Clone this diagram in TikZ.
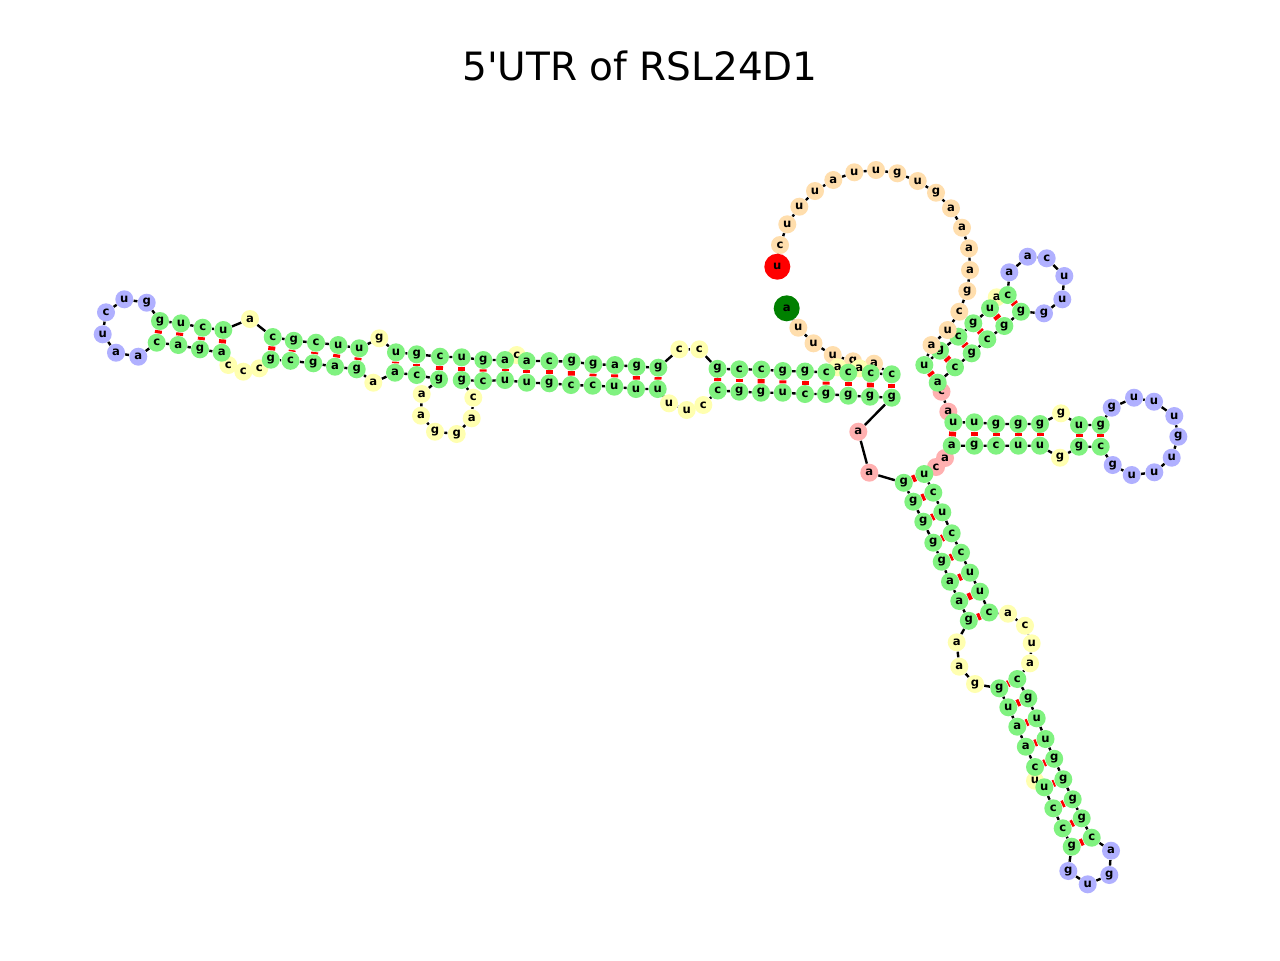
\documentclass[tikz,border=0pt]{standalone}
\usepackage{fontspec}
\setmainfont{DejaVu Sans}
\usetikzlibrary{backgrounds}
\definecolor{stemgreen}{RGB}{128,242,128}
\definecolor{loopyellow}{RGB}{255,255,176}
\definecolor{hairpinblue}{RGB}{176,176,255}
\definecolor{multipink}{RGB}{255,176,176}
\definecolor{tailpeach}{RGB}{255,222,173}
\definecolor{startgreen}{RGB}{0,128,0}
\definecolor{endred}{RGB}{255,0,0}
\tikzset{
  nt/.style={
    circle,
    draw=none,
    inner sep=0pt,
    minimum size=9pt,
    font=\fontsize{5.8}{6}\selectfont\bfseries
  },
  stem/.style={nt, fill=stemgreen},
  iloop/.style={nt, fill=loopyellow},
  hloop/.style={nt, fill=hairpinblue},
  mloop/.style={nt, fill=multipink},
  tail/.style={nt, fill=tailpeach},
  first/.style={nt, minimum size=13pt, fill=startgreen},
  last/.style={nt, minimum size=13pt, fill=endred},
  backbone/.style={draw=black, line width=1.2pt},
  pair/.style={draw=endred, line width=3.5pt}
}
\def\nuc#1{#1}

\begin{document}
\begin{tikzpicture}[x=0.5pt, y=-0.5pt]
    \useasboundingbox (0,0) rectangle (1280,960);
    \node[anchor=base, font=\fontsize{19.5}{22}\selectfont] (title) at (640, 80) {5\textquotesingle UTR of RSL24D1};
    \node[first] (n1) at (786.7, 308.3) {\nuc{a}};
    \node[tail] (n2) at (798.3, 327.7) {\nuc{u}};
    \node[tail] (n3) at (813.5, 343.3) {\nuc{u}};
    \node[tail] (n4) at (832.7, 355) {\nuc{u}};
    \node[tail] (n5) at (853, 361.3) {\nuc{g}};
    \node[tail] (n6) at (874, 363.7) {\nuc{a}};
    \node[iloop] (n9) at (859.3, 368.3) {\nuc{a}};
    \node[iloop] (n11) at (837.7, 367.3) {\nuc{a}};
    \node[stem] (n7) at (891.7, 374.3) {\nuc{c}};
    \node[stem] (n8) at (870.7, 373.3) {\nuc{c}};
    \node[stem] (n10) at (848.3, 372.7) {\nuc{c}};
    \node[stem] (n12) at (826.3, 372.3) {\nuc{c}};
    \node[stem] (n13) at (805, 371.5) {\nuc{g}};
    \node[stem] (n14) at (782.8, 371) {\nuc{g}};
    \node[stem] (n15) at (761.3, 369.6) {\nuc{c}};
    \node[stem] (n16) at (739.3, 369.3) {\nuc{c}};
    \node[stem] (n17) at (717.5, 368.8) {\nuc{g}};
    \node[iloop] (n18) at (699.3, 349.3) {\nuc{c}};
    \node[iloop] (n19) at (679.3, 349.3) {\nuc{c}};
    \node[stem] (n20) at (658.3, 367.7) {\nuc{g}};
    \node[stem] (n21) at (636.7, 366.7) {\nuc{g}};
    \node[stem] (n22) at (615, 365) {\nuc{a}};
    \node[stem] (n23) at (593.3, 364.3) {\nuc{g}};
    \node[stem] (n24) at (571.7, 361.7) {\nuc{g}};
    \node[stem] (n25) at (549.3, 361) {\nuc{c}};
    \node[iloop] (n27) at (516.7, 355) {\nuc{c}};
    \node[stem] (n26) at (526.7, 361) {\nuc{a}};
    \node[stem] (n28) at (505, 360) {\nuc{a}};
    \node[stem] (n29) at (483.3, 360) {\nuc{g}};
    \node[stem] (n30) at (461.7, 357.3) {\nuc{u}};
    \node[stem] (n31) at (440, 356.7) {\nuc{c}};
    \node[stem] (n32) at (416.7, 354.3) {\nuc{g}};
    \node[stem] (n33) at (396, 352.3) {\nuc{u}};
    \node[iloop] (n34) at (379.3, 338.3) {\nuc{g}};
    \node[stem] (n35) at (359.3, 348.3) {\nuc{u}};
    \node[stem] (n36) at (338.3, 345) {\nuc{u}};
    \node[stem] (n37) at (316, 342.7) {\nuc{c}};
    \node[stem] (n38) at (293.8, 340.8) {\nuc{g}};
    \node[stem] (n39) at (272.7, 337) {\nuc{c}};
    \node[iloop] (n40) at (250, 319) {\nuc{a}};
    \node[stem] (n41) at (223.3, 330) {\nuc{u}};
    \node[stem] (n42) at (202.7, 327.7) {\nuc{c}};
    \node[stem] (n43) at (181, 323.3) {\nuc{u}};
    \node[stem] (n44) at (160, 321) {\nuc{g}};
    \node[hloop] (n45) at (146.7, 302.7) {\nuc{g}};
    \node[hloop] (n46) at (124.3, 299.3) {\nuc{u}};
    \node[hloop] (n47) at (106, 312.3) {\nuc{c}};
    \node[hloop] (n48) at (102.7, 334.3) {\nuc{u}};
    \node[hloop] (n49) at (116, 352.7) {\nuc{a}};
    \node[hloop] (n50) at (138.3, 356.7) {\nuc{a}};
    \node[stem] (n51) at (156.7, 342.7) {\nuc{c}};
    \node[stem] (n52) at (178.3, 345) {\nuc{a}};
    \node[stem] (n53) at (200, 349.3) {\nuc{g}};
    \node[iloop] (n55) at (228.3, 365) {\nuc{c}};
    \node[stem] (n54) at (221.7, 352.7) {\nuc{a}};
    \node[iloop] (n56) at (243.3, 371.7) {\nuc{c}};
    \node[iloop] (n57) at (259.3, 368.3) {\nuc{c}};
    \node[stem] (n58) at (270.8, 359.7) {\nuc{g}};
    \node[stem] (n59) at (290.5, 360.8) {\nuc{c}};
    \node[stem] (n60) at (313.3, 363.3) {\nuc{g}};
    \node[stem] (n61) at (335, 366.7) {\nuc{a}};
    \node[stem] (n62) at (356.7, 369.3) {\nuc{g}};
    \node[iloop] (n63) at (373.3, 382.7) {\nuc{a}};
    \node[stem] (n64) at (395, 372.7) {\nuc{a}};
    \node[stem] (n65) at (416.7, 375) {\nuc{c}};
    \node[iloop] (n67) at (421.7, 394) {\nuc{a}};
    \node[stem] (n66) at (439, 379.3) {\nuc{g}};
    \node[iloop] (n68) at (421, 415.7) {\nuc{a}};
    \node[iloop] (n69) at (435, 431.7) {\nuc{g}};
    \node[iloop] (n70) at (456.7, 434) {\nuc{g}};
    \node[iloop] (n71) at (471.7, 418.3) {\nuc{a}};
    \node[iloop] (n72) at (473.3, 397.7) {\nuc{c}};
    \node[stem] (n73) at (461.7, 380) {\nuc{g}};
    \node[stem] (n74) at (483, 381) {\nuc{c}};
    \node[stem] (n75) at (505, 380) {\nuc{u}};
    \node[stem] (n76) at (526.7, 382.7) {\nuc{u}};
    \node[stem] (n77) at (549.3, 383.3) {\nuc{g}};
    \node[stem] (n78) at (571, 385) {\nuc{c}};
    \node[stem] (n79) at (592.7, 385.7) {\nuc{c}};
    \node[stem] (n80) at (614.3, 386.7) {\nuc{u}};
    \node[stem] (n81) at (636, 389) {\nuc{u}};
    \node[stem] (n82) at (657.7, 389) {\nuc{u}};
    \node[iloop] (n83) at (669, 403.3) {\nuc{u}};
    \node[iloop] (n84) at (686.7, 410) {\nuc{u}};
    \node[iloop] (n85) at (703.3, 405) {\nuc{c}};
    \node[stem] (n86) at (717.8, 390.5) {\nuc{c}};
    \node[stem] (n87) at (739.3, 391.7) {\nuc{g}};
    \node[stem] (n88) at (761, 392.7) {\nuc{g}};
    \node[stem] (n89) at (782.7, 392.7) {\nuc{u}};
    \node[stem] (n90) at (805, 394) {\nuc{c}};
    \node[stem] (n91) at (826, 394) {\nuc{g}};
    \node[stem] (n92) at (848.3, 395.7) {\nuc{g}};
    \node[stem] (n93) at (870, 396.7) {\nuc{g}};
    \node[stem] (n94) at (891.7, 397.7) {\nuc{g}};
    \node[mloop] (n95) at (858.3, 431.7) {\nuc{a}};
    \node[mloop] (n96) at (869.3, 472.7) {\nuc{a}};
    \node[stem] (n97) at (903.8, 482.8) {\nuc{g}};
    \node[stem] (n98) at (913.3, 501.7) {\nuc{g}};
    \node[stem] (n99) at (923.3, 521.7) {\nuc{g}};
    \node[stem] (n100) at (933.3, 542.7) {\nuc{g}};
    \node[stem] (n101) at (941.7, 561.7) {\nuc{g}};
    \node[stem] (n102) at (950, 581.7) {\nuc{a}};
    \node[stem] (n103) at (959.3, 601) {\nuc{a}};
    \node[stem] (n104) at (968.8, 620.8) {\nuc{g}};
    \node[iloop] (n105) at (956.7, 642.3) {\nuc{a}};
    \node[iloop] (n106) at (959.3, 666.7) {\nuc{a}};
    \node[iloop] (n107) at (975, 684) {\nuc{g}};
    \node[stem] (n108) at (999.3, 688.3) {\nuc{g}};
    \node[stem] (n109) at (1008.3, 707.3) {\nuc{u}};
    \node[stem] (n110) at (1017.3, 726.7) {\nuc{a}};
    \node[stem] (n111) at (1025.8, 746.7) {\nuc{a}};
    \node[iloop] (n113) at (1035, 780.7) {\nuc{u}};
    \node[stem] (n112) at (1035, 767) {\nuc{c}};
    \node[stem] (n114) at (1044.3, 787.3) {\nuc{u}};
    \node[stem] (n115) at (1053.3, 808.3) {\nuc{c}};
    \node[stem] (n116) at (1062.7, 828.3) {\nuc{c}};
    \node[stem] (n117) at (1071.7, 846.7) {\nuc{g}};
    \node[hloop] (n118) at (1068.3, 871) {\nuc{g}};
    \node[hloop] (n119) at (1087.7, 884.3) {\nuc{u}};
    \node[hloop] (n120) at (1109.3, 875) {\nuc{g}};
    \node[hloop] (n121) at (1111, 850.7) {\nuc{a}};
    \node[stem] (n122) at (1091.7, 837.7) {\nuc{c}};
    \node[stem] (n123) at (1081.7, 818.3) {\nuc{g}};
    \node[stem] (n124) at (1072.7, 799.3) {\nuc{g}};
    \node[stem] (n125) at (1063.3, 779.3) {\nuc{g}};
    \node[stem] (n126) at (1054.2, 758.8) {\nuc{g}};
    \node[stem] (n127) at (1045.5, 739) {\nuc{u}};
    \node[stem] (n128) at (1036.7, 718.3) {\nuc{u}};
    \node[stem] (n129) at (1028.3, 698.3) {\nuc{g}};
    \node[stem] (n130) at (1017.3, 679) {\nuc{c}};
    \node[iloop] (n131) at (1030, 663.3) {\nuc{a}};
    \node[iloop] (n132) at (1031.7, 643.3) {\nuc{u}};
    \node[iloop] (n133) at (1025, 625.7) {\nuc{c}};
    \node[iloop] (n134) at (1008, 613.7) {\nuc{a}};
    \node[stem] (n135) at (989.1, 612.5) {\nuc{c}};
    \node[stem] (n136) at (980, 591.7) {\nuc{u}};
    \node[stem] (n137) at (970, 572.7) {\nuc{u}};
    \node[stem] (n138) at (961, 552.7) {\nuc{c}};
    \node[stem] (n139) at (951.7, 533.3) {\nuc{c}};
    \node[stem] (n140) at (942.3, 512.3) {\nuc{u}};
    \node[stem] (n141) at (933.3, 492.7) {\nuc{c}};
    \node[mloop] (n143) at (936, 467) {\nuc{c}};
    \node[stem] (n142) at (924.3, 474) {\nuc{u}};
    \node[mloop] (n144) at (945, 458) {\nuc{a}};
    \node[stem] (n145) at (951.7, 445.7) {\nuc{a}};
    \node[stem] (n146) at (974.3, 445.7) {\nuc{g}};
    \node[stem] (n147) at (996, 445.7) {\nuc{c}};
    \node[stem] (n148) at (1018.3, 445.7) {\nuc{u}};
    \node[stem] (n149) at (1040, 445.7) {\nuc{u}};
    \node[iloop] (n150) at (1060, 457.7) {\nuc{g}};
    \node[stem] (n151) at (1079, 446.7) {\nuc{g}};
    \node[stem] (n152) at (1100.7, 446.7) {\nuc{c}};
    \node[hloop] (n153) at (1112.7, 465) {\nuc{g}};
    \node[hloop] (n154) at (1131.7, 475) {\nuc{u}};
    \node[hloop] (n155) at (1154.3, 472.3) {\nuc{u}};
    \node[hloop] (n156) at (1171.7, 457.7) {\nuc{u}};
    \node[hloop] (n157) at (1178.3, 436.7) {\nuc{g}};
    \node[hloop] (n158) at (1174.3, 416) {\nuc{u}};
    \node[hloop] (n159) at (1154, 401.7) {\nuc{u}};
    \node[hloop] (n160) at (1134, 397.7) {\nuc{u}};
    \node[hloop] (n161) at (1111.7, 407.7) {\nuc{g}};
    \node[stem] (n162) at (1100.7, 425) {\nuc{g}};
    \node[stem] (n163) at (1079, 425) {\nuc{u}};
    \node[iloop] (n164) at (1061, 413.3) {\nuc{g}};
    \node[stem] (n165) at (1040, 424) {\nuc{g}};
    \node[stem] (n166) at (1018.3, 424) {\nuc{g}};
    \node[stem] (n167) at (996, 424) {\nuc{g}};
    \node[stem] (n168) at (974.3, 422.3) {\nuc{u}};
    \node[mloop] (n170) at (948.3, 411.7) {\nuc{a}};
    \node[stem] (n169) at (953.3, 422.3) {\nuc{u}};
    \node[mloop] (n171) at (941.5, 391.7) {\nuc{c}};
    \node[stem] (n172) at (937.7, 382.7) {\nuc{a}};
    \node[stem] (n173) at (955, 367.3) {\nuc{c}};
    \node[stem] (n174) at (971.7, 353.3) {\nuc{g}};
    \node[stem] (n175) at (987.3, 339.3) {\nuc{c}};
    \node[stem] (n176) at (1004.3, 326) {\nuc{g}};
    \node[stem] (n177) at (1021, 311.7) {\nuc{g}};
    \node[hloop] (n178) at (1044, 313.3) {\nuc{g}};
    \node[hloop] (n179) at (1062.3, 299.3) {\nuc{u}};
    \node[hloop] (n180) at (1064.3, 276) {\nuc{u}};
    \node[hloop] (n181) at (1046.7, 258.3) {\nuc{c}};
    \node[hloop] (n182) at (1027.7, 256.7) {\nuc{a}};
    \node[hloop] (n183) at (1009.3, 272.3) {\nuc{a}};
    \node[iloop] (n185) at (996.7, 297.3) {\nuc{a}};
    \node[stem] (n184) at (1007.7, 295) {\nuc{c}};
    \node[stem] (n186) at (990, 308.3) {\nuc{u}};
    \node[stem] (n187) at (973.3, 323.3) {\nuc{g}};
    \node[stem] (n188) at (958.3, 336.7) {\nuc{c}};
    \node[stem] (n189) at (940, 350.7) {\nuc{g}};
    \node[tail] (n191) at (931.5, 345) {\nuc{a}};
    \node[stem] (n190) at (924.3, 365) {\nuc{u}};
    \node[tail] (n192) at (947.7, 330) {\nuc{u}};
    \node[tail] (n193) at (959.3, 311.7) {\nuc{c}};
    \node[tail] (n194) at (967.3, 291) {\nuc{g}};
    \node[tail] (n195) at (970, 270) {\nuc{a}};
    \node[tail] (n196) at (969, 248.3) {\nuc{a}};
    \node[tail] (n197) at (962, 227.7) {\nuc{a}};
    \node[tail] (n198) at (951, 208.3) {\nuc{a}};
    \node[tail] (n199) at (936, 192.7) {\nuc{g}};
    \node[tail] (n200) at (917.7, 181) {\nuc{u}};
    \node[tail] (n201) at (897.3, 173.3) {\nuc{g}};
    \node[tail] (n202) at (876, 170) {\nuc{u}};
    \node[tail] (n203) at (854.3, 172.3) {\nuc{u}};
    \node[tail] (n204) at (833.3, 180) {\nuc{a}};
    \node[tail] (n205) at (815, 191) {\nuc{u}};
    \node[tail] (n206) at (799.3, 206.7) {\nuc{u}};
    \node[tail] (n207) at (787.3, 224.3) {\nuc{u}};
    \node[tail] (n208) at (780, 245) {\nuc{c}};
    \node[last] (n209) at (777.3, 266.7) {\nuc{u}};
    \begin{pgfonlayer}{background}
    \fill[white] (0,0) rectangle (1280,960);
    \draw[backbone] (n1) -- (n2) -- (n3) -- (n4) -- (n5) -- (n6) -- (n7) -- (n8) -- (n9) -- (n10) -- (n11) -- (n12)
        -- (n13) -- (n14) -- (n15) -- (n16) -- (n17) -- (n18) -- (n19) -- (n20) -- (n21) -- (n22) -- (n23) -- (n24)
        -- (n25) -- (n26) -- (n27) -- (n28) -- (n29) -- (n30) -- (n31) -- (n32) -- (n33) -- (n34) -- (n35) -- (n36)
        -- (n37) -- (n38) -- (n39) -- (n40) -- (n41) -- (n42) -- (n43) -- (n44) -- (n45) -- (n46) -- (n47) -- (n48)
        -- (n49) -- (n50) -- (n51) -- (n52) -- (n53) -- (n54) -- (n55) -- (n56) -- (n57) -- (n58) -- (n59) -- (n60)
        -- (n61) -- (n62) -- (n63) -- (n64) -- (n65) -- (n66) -- (n67) -- (n68) -- (n69) -- (n70) -- (n71) -- (n72)
        -- (n73) -- (n74) -- (n75) -- (n76) -- (n77) -- (n78) -- (n79) -- (n80) -- (n81) -- (n82) -- (n83) -- (n84)
        -- (n85) -- (n86) -- (n87) -- (n88) -- (n89) -- (n90) -- (n91) -- (n92) -- (n93) -- (n94) -- (n95) -- (n96)
        -- (n97) -- (n98) -- (n99) -- (n100) -- (n101) -- (n102) -- (n103) -- (n104) -- (n105) -- (n106) -- (n107)
        -- (n108) -- (n109) -- (n110) -- (n111) -- (n112) -- (n113) -- (n114) -- (n115) -- (n116) -- (n117)
        -- (n118) -- (n119) -- (n120) -- (n121) -- (n122) -- (n123) -- (n124) -- (n125) -- (n126) -- (n127)
        -- (n128) -- (n129) -- (n130) -- (n131) -- (n132) -- (n133) -- (n134) -- (n135) -- (n136) -- (n137)
        -- (n138) -- (n139) -- (n140) -- (n141) -- (n142) -- (n143) -- (n144) -- (n145) -- (n146) -- (n147)
        -- (n148) -- (n149) -- (n150) -- (n151) -- (n152) -- (n153) -- (n154) -- (n155) -- (n156) -- (n157)
        -- (n158) -- (n159) -- (n160) -- (n161) -- (n162) -- (n163) -- (n164) -- (n165) -- (n166) -- (n167)
        -- (n168) -- (n169) -- (n170) -- (n171) -- (n172) -- (n173) -- (n174) -- (n175) -- (n176) -- (n177)
        -- (n178) -- (n179) -- (n180) -- (n181) -- (n182) -- (n183) -- (n184) -- (n185) -- (n186) -- (n187)
        -- (n188) -- (n189) -- (n190) -- (n191) -- (n192) -- (n193) -- (n194) -- (n195) -- (n196) -- (n197)
        -- (n198) -- (n199) -- (n200) -- (n201) -- (n202) -- (n203) -- (n204) -- (n205) -- (n206) -- (n207)
        -- (n208) -- (n209);
    \draw[pair] (n7) -- (n94);
    \draw[pair] (n8) -- (n93);
    \draw[pair] (n10) -- (n92);
    \draw[pair] (n12) -- (n91);
    \draw[pair] (n13) -- (n90);
    \draw[pair] (n14) -- (n89);
    \draw[pair] (n15) -- (n88);
    \draw[pair] (n16) -- (n87);
    \draw[pair] (n17) -- (n86);
    \draw[pair] (n20) -- (n82);
    \draw[pair] (n21) -- (n81);
    \draw[pair] (n22) -- (n80);
    \draw[pair] (n23) -- (n79);
    \draw[pair] (n24) -- (n78);
    \draw[pair] (n25) -- (n77);
    \draw[pair] (n26) -- (n76);
    \draw[pair] (n28) -- (n75);
    \draw[pair] (n29) -- (n74);
    \draw[pair] (n30) -- (n73);
    \draw[pair] (n31) -- (n66);
    \draw[pair] (n32) -- (n65);
    \draw[pair] (n33) -- (n64);
    \draw[pair] (n35) -- (n62);
    \draw[pair] (n36) -- (n61);
    \draw[pair] (n37) -- (n60);
    \draw[pair] (n38) -- (n59);
    \draw[pair] (n39) -- (n58);
    \draw[pair] (n41) -- (n54);
    \draw[pair] (n42) -- (n53);
    \draw[pair] (n43) -- (n52);
    \draw[pair] (n44) -- (n51);
    \draw[pair] (n97) -- (n142);
    \draw[pair] (n98) -- (n141);
    \draw[pair] (n99) -- (n140);
    \draw[pair] (n100) -- (n139);
    \draw[pair] (n101) -- (n138);
    \draw[pair] (n102) -- (n137);
    \draw[pair] (n103) -- (n136);
    \draw[pair] (n104) -- (n135);
    \draw[pair] (n108) -- (n130);
    \draw[pair] (n109) -- (n129);
    \draw[pair] (n110) -- (n128);
    \draw[pair] (n111) -- (n127);
    \draw[pair] (n112) -- (n126);
    \draw[pair] (n114) -- (n125);
    \draw[pair] (n115) -- (n124);
    \draw[pair] (n116) -- (n123);
    \draw[pair] (n117) -- (n122);
    \draw[pair] (n145) -- (n169);
    \draw[pair] (n146) -- (n168);
    \draw[pair] (n147) -- (n167);
    \draw[pair] (n148) -- (n166);
    \draw[pair] (n149) -- (n165);
    \draw[pair] (n151) -- (n163);
    \draw[pair] (n152) -- (n162);
    \draw[pair] (n172) -- (n190);
    \draw[pair] (n173) -- (n189);
    \draw[pair] (n174) -- (n188);
    \draw[pair] (n175) -- (n187);
    \draw[pair] (n176) -- (n186);
    \draw[pair] (n177) -- (n184);
    \end{pgfonlayer}
\end{tikzpicture}
\end{document}
